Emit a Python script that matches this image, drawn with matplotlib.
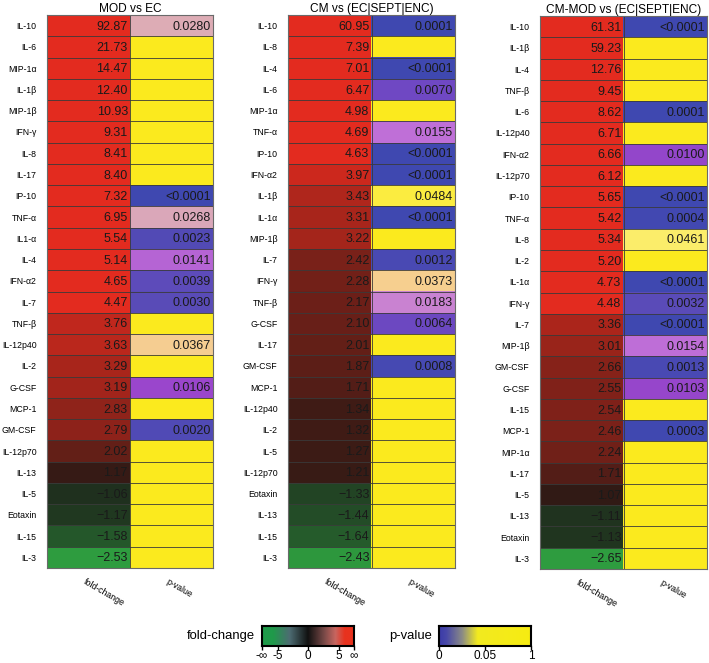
import numpy as np
import matplotlib
matplotlib.use("Agg")
import matplotlib.pyplot as plt
from matplotlib.colors import LinearSegmentedColormap, Normalize

plt.rcParams["font.family"] = ["Liberation Sans", "DejaVu Sans"]

# ---- data -------------------------------------------------------------
titles = ["MOD vs EC", "CM vs (EC|SEPT|ENC)", "CM-MOD vs (EC|SEPT|ENC)"]

mod_names = ["IL-10", "IL-6", "MIP-1α", "IL-1β", "MIP-1β", "IFN-γ", "IL-8", "IL-17", "IP-10",
             "TNF-α", "IL1-α", "IL-4", "IFN-α2", "IL-7", "TNF-β", "IL-12p40", "IL-2", "G-CSF",
             "MCP-1", "GM-CSF", "IL-12p70", "IL-13", "IL-5", "Eotaxin", "IL-15", "IL-3"]
mod_fc = [92.87, 21.73, 14.47, 12.40, 10.93, 9.31, 8.41, 8.40, 7.32, 6.95, 5.54, 5.14, 4.65,
          4.47, 3.76, 3.63, 3.29, 3.19, 2.83, 2.79, 2.02, 1.17, -1.06, -1.17, -1.58, -2.53]
mod_p = ["0.0280", None, None, None, None, None, None, None, "<0.0001", "0.0268", "0.0023",
         "0.0141", "0.0039", "0.0030", None, "0.0367", None, "0.0106", None, "0.0020",
         None, None, None, None, None, None]

cm_names = ["IL-10", "IL-8", "IL-4", "IL-6", "MIP-1α", "TNF-α", "IP-10", "IFN-α2", "IL-1β",
            "IL-1α", "MIP-1β", "IL-7", "IFN-γ", "TNF-β", "G-CSF", "IL-17", "GM-CSF", "MCP-1",
            "IL-12p40", "IL-2", "IL-5", "IL-12p70", "Eotaxin", "IL-13", "IL-15", "IL-3"]
cm_fc = [60.95, 7.39, 7.01, 6.47, 4.98, 4.69, 4.63, 3.97, 3.43, 3.31, 3.22, 2.42, 2.28, 2.17,
         2.10, 2.01, 1.87, 1.71, 1.34, 1.32, 1.27, 1.21, -1.33, -1.44, -1.64, -2.43]
cm_p = ["0.0001", None, "<0.0001", "0.0070", None, "0.0155", "<0.0001", "<0.0001", "0.0484",
        "<0.0001", None, "0.0012", "0.0373", "0.0183", "0.0064", None, "0.0008",
        None, None, None, None, None, None, None, None, None]

cmmod_names = ["IL-10", "IL-1β", "IL-4", "TNF-β", "IL-6", "IL-12p40", "IFN-α2", "IL-12p70",
               "IP-10", "TNF-α", "IL-8", "IL-2", "IL-1α", "IFN-γ", "IL-7", "MIP-1β", "GM-CSF",
               "G-CSF", "IL-15", "MCP-1", "MIP-1α", "IL-17", "IL-5", "IL-13", "Eotaxin", "IL-3"]
cmmod_fc = [61.31, 59.23, 12.76, 9.45, 8.62, 6.71, 6.66, 6.12, 5.65, 5.42, 5.34, 5.20, 4.73,
            4.48, 3.36, 3.01, 2.66, 2.55, 2.54, 2.46, 2.24, 1.71, 1.07, -1.11, -1.13, -2.65]
cmmod_p = ["<0.0001", None, None, None, "0.0001", None, "0.0100", None, "<0.0001", "0.0004",
           "0.0461", None, "<0.0001", "0.0032", "<0.0001", "0.0154", "0.0013", "0.0103",
           None, "0.0003", None, None, None, None, None, None]

col_labels = ["fold-change", "p-value"]
fc_bar_ticks = ["-∞", "-5", "0", "5", "∞"]
p_bar_ticks = ["0", "0.05", "1"]

panels = [(mod_names, mod_fc, mod_p), (cm_names, cm_fc, cm_p), (cmmod_names, cmmod_fc, cmmod_p)]

# ---- colour maps ---------------------------------------------------------
red_cmap = LinearSegmentedColormap.from_list("up", ["#2e1a15", "#e32b1f"])
green_cmap = LinearSegmentedColormap.from_list("down", ["#1f2c1d", "#2e9c3f"])
p_cmap = LinearSegmentedColormap.from_list("p", [
    (0.0, "#3f48b0"), (0.06, "#5a4cb8"), (0.14, "#7048c4"), (0.21, "#9a46cc"),
    (0.31, "#c070d8"), (0.38, "#cc88d0"), (0.55, "#dcaab8"), (0.74, "#f6cf90"),
    (0.92, "#fbee70"), (1.0, "#fbec22")])
ns_color = "#fbea1e"

fc_bar_cmap = LinearSegmentedColormap.from_list("fcbar", [
    (0.0, "#1f9a4a"), (0.12, "#1f9a4a"), (0.3, "#4d6c72"), (0.5, "#111111"),
    (0.68, "#7a4a48"), (0.8, "#c86660"), (0.9, "#e8321e"), (1.0, "#e8321e")])
p_bar_cmap = LinearSegmentedColormap.from_list("pbar", [
    (0.0, "#3b3ba8"), (0.08, "#4848a8"), (0.25, "#8a8a86"), (0.42, "#f2ea20"), (1.0, "#f7ec12")])


def fc_color(v):
    if v > 0:
        return red_cmap(Normalize(0, 3.4, clip=True)(v - 1))
    return green_cmap(Normalize(0, 1.5, clip=True)(-(v + 1)))


def p_color(s):
    if s is None:
        return matplotlib.colors.to_rgba(ns_color)
    return p_cmap(Normalize(0, 0.05, clip=True)(float(s.lstrip("<"))))


W, H = 709, 663
fig = plt.figure(figsize=(W / 100, H / 100), dpi=100)


def add_ax(l, t, r, b):
    return fig.add_axes([l / W, 1 - b / H, (r - l) / W, (b - t) / H])


boxes = [(47, 15, 213, 568), (288, 15, 455, 568), (540, 16, 707, 569)]

for (names, fc, pv), title, box in zip(panels, titles, boxes):
    ax = add_ax(*box)
    n = len(names)
    img = np.array([[fc_color(f), p_color(p)] for f, p in zip(fc, pv)])
    ax.imshow(img, extent=(0, 2, n, 0), aspect="auto", interpolation="nearest")
    ax.hlines(np.arange(1, n), 0, 2, color="#3a3a3a", lw=0.6)
    ax.vlines(1, 0, n, color="#3a3a3a", lw=0.6)
    for i, (f, p) in enumerate(zip(fc, pv)):
        txt = f"{f:.2f}".replace("-", "−")
        ax.text(0.975, i + 0.55, txt, ha="right", va="center", fontsize=9, color="#1a1a1a")
        if p is not None:
            ax.text(1.975, i + 0.55, p, ha="right", va="center", fontsize=9, color="#1a1a1a")
    ax.set_xlim(0, 2)
    ax.set_ylim(n, 0)
    ax.set_yticks(np.arange(n) + 0.5)
    ax.set_yticklabels(names, fontsize=6.3)
    ax.tick_params(axis="y", length=0, pad=7.5)
    ax.set_xticks([])
    for j, lab in enumerate(col_labels):
        ax.text(j + 0.47, n + 0.45, lab, rotation=-30, rotation_mode="anchor",
                ha="left", va="top", fontsize=6.3)
    for sp in ax.spines.values():
        sp.set_color("#6a6a6a")
        sp.set_linewidth(0.8)
    ax.set_title(title, fontsize=8.6, pad=2)

# ---- legend colour bars ----------------------------------------------------
grad = np.linspace(0, 1, 256)[None, :]
bar_specs = [((262, 626, 354, 646), fc_bar_cmap, "fold-change",
              [0, 0.17, 0.5, 0.84, 1.0], fc_bar_ticks),
             ((439, 626, 531, 646), p_bar_cmap, "p-value",
              [0, 0.5, 1.0], p_bar_ticks)]
for box, cmap, label, pos, ticks in bar_specs:
    cax = add_ax(*box)
    cax.imshow(grad, cmap=cmap, extent=(0, 1, 0, 1), aspect="auto")
    cax.set_yticks([])
    cax.set_xticks(pos)
    cax.set_xticklabels(ticks, fontsize=8.5)
    cax.tick_params(axis="x", length=3, width=1, pad=0)
    for sp in cax.spines.values():
        sp.set_linewidth(1.5)
    cax.text(-0.08, 0.5, label, transform=cax.transAxes, ha="right", va="center", fontsize=9.4)

fig.savefig("out.png", dpi=100)
